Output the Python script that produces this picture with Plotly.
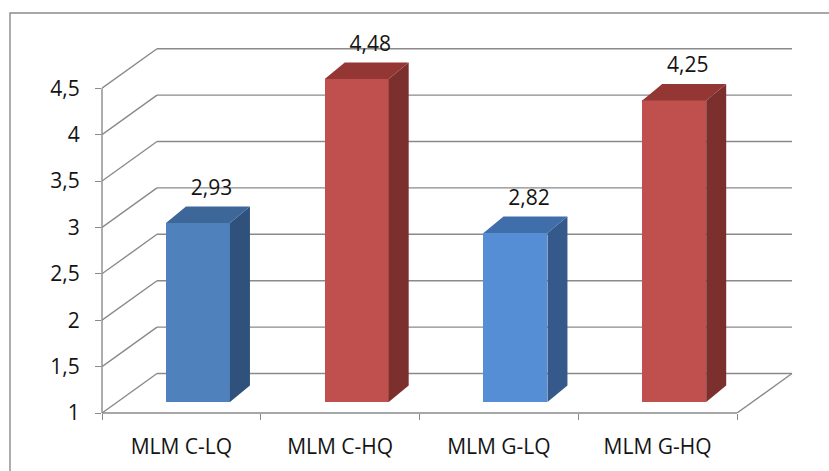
import plotly.graph_objects as go

# --- data -------------------------------------------------------------
categories = ["MLM C-LQ", "MLM C-HQ", "MLM G-LQ", "MLM G-HQ"]
values = [2.93, 4.48, 2.82, 4.25]
y_ticks = [1, 1.5, 2, 2.5, 3, 3.5, 4, 4.5]
y_tick_labels = ["1", "1,5", "2", "2,5", "3", "3,5", "4", "4,5"]

# --- styling ----------------------------------------------------------
front_colors = ["#4F81BD", "#C0504D", "#558ED5", "#C0504D"]
top_colors = ["#3D6699", "#943634", "#406EAB", "#943634"]
side_colors = ["#30517B", "#7B302E", "#35598A", "#7B302E"]
grid_color = "#8A8A8A"
text_color = "#141414"
font_family = "Open Sans"

# pseudo-3D geometry, in axis units
PX_X = 158.75           # pixels per category
PX_Y = 92.8             # pixels per value unit
WALL_DX = 55 / PX_X     # depth of floor / back wall
WALL_DY = 39.5 / PX_Y
BAR_X0, BAR_X1 = 0.403, 0.806   # front face of each bar within its category
BAR_LIFT = 11 / PX_Y            # front face sits a little behind the floor edge
BAR_DX = 20 / PX_X              # bar depth
BAR_DY = 16.5 / PX_Y
n = len(categories)
y_min = y_ticks[0]
y_max_tick = y_ticks[-1]

W, H = 829, 471
ML, MB = 102, 58
x_range = [0, (W - ML) / PX_X]
y_range = [y_min, y_min + (H - MB) / PX_Y]

fig = go.Figure()

shapes = []
line_style = dict(color=grid_color, width=1.4)

# back-wall gridlines with their slanted side-wall continuation
for v in y_ticks:
    shapes.append(dict(type="line", xref="x", yref="y", x0=0, y0=v,
                       x1=WALL_DX, y1=v + WALL_DY, line=line_style, layer="below"))
    shapes.append(dict(type="line", xref="x", yref="y", x0=WALL_DX, y0=v + WALL_DY,
                       x1=n + WALL_DX, y1=v + WALL_DY, line=line_style, layer="below"))

# floor: front edge and right edge
shapes.append(dict(type="line", xref="x", yref="paper", x0=0, y0=0, x1=n, y1=0,
                   line=line_style, layer="below"))
shapes.append(dict(type="line", xref="x", yref="y", x0=n, y0=y_min,
                   x1=n + WALL_DX, y1=y_min + WALL_DY, line=line_style, layer="below"))

# value axis line
shapes.append(dict(type="line", xref="paper", yref="y", x0=0, y0=y_min, x1=0, y1=y_max_tick,
                   line=line_style, layer="below"))

# chart frame
shapes.append(dict(type="rect", xref="paper", yref="paper",
                   x0=(10 - ML) / (W - ML), y0=-0.5,
                   x1=1.2, y1=(H - MB - 13) / (H - MB),
                   line=dict(color=grid_color, width=1.4), fillcolor="rgba(0,0,0,0)",
                   layer="below"))

# front faces of the bars
bar_centers = [i + (BAR_X0 + BAR_X1) / 2 for i in range(n)]
fig.add_trace(go.Bar(
    x=bar_centers,
    y=[v - y_min for v in values],
    base=y_min + BAR_LIFT,
    width=BAR_X1 - BAR_X0,
    marker=dict(color=front_colors, line=dict(width=0)),
    hoverinfo="skip",
    showlegend=False,
))

# top and side faces
for i, v in enumerate(values):
    x0 = i + BAR_X0
    x1 = i + BAR_X1
    b = y_min + BAR_LIFT
    t = v + BAR_LIFT
    fig.add_trace(go.Scatter(
        x=[x1, x1 + BAR_DX, x1 + BAR_DX, x1, x1],
        y=[b, b + BAR_DY, t + BAR_DY, t, b],
        fill="toself", fillcolor=side_colors[i], mode="lines",
        line=dict(width=0, color=side_colors[i]), hoverinfo="skip", showlegend=False,
    ))
    fig.add_trace(go.Scatter(
        x=[x0, x0 + BAR_DX, x1 + BAR_DX, x1, x0],
        y=[t, t + BAR_DY, t + BAR_DY, t, t],
        fill="toself", fillcolor=top_colors[i], mode="lines",
        line=dict(width=0, color=top_colors[i]), hoverinfo="skip", showlegend=False,
    ))

# value labels
fig.add_trace(go.Scatter(
    x=[c + 0.085 for c in bar_centers],
    y=[v + BAR_LIFT + BAR_DY + 0.18 for v in values],
    text=[f"{v:.2f}".replace(".", ",") for v in values],
    mode="text", textposition="middle center",
    textfont=dict(family=font_family, size=21, color=text_color),
    hoverinfo="skip", showlegend=False, cliponaxis=False,
))

# hidden trace on the overlay axis carrying category tick marks
fig.add_trace(go.Scatter(x=[0], y=[y_min], xaxis="x2", mode="markers",
                         marker=dict(opacity=0), hoverinfo="skip", showlegend=False))

fig.update_layout(
    width=W, height=H, autosize=False,
    margin=dict(l=ML, r=0, t=0, b=MB, pad=0),
    paper_bgcolor="white", plot_bgcolor="white",
    shapes=shapes,
    font=dict(family=font_family, color=text_color),
    xaxis=dict(range=x_range, tickvals=[i + 0.5 for i in range(n)],
               ticktext=categories, ticks="", showline=False, showgrid=False,
               zeroline=False, fixedrange=True, ticklabelstandoff=19,
               tickfont=dict(family=font_family, size=21, color=text_color)),
    xaxis2=dict(range=x_range, overlaying="x", anchor="y", side="bottom",
                tickvals=list(range(n + 1)), ticks="outside", ticklen=6,
                tickwidth=1.4, tickcolor=grid_color, showticklabels=False,
                showline=False, showgrid=False, zeroline=False, fixedrange=True),
    yaxis=dict(range=y_range, tickvals=y_ticks, ticktext=y_tick_labels,
               ticks="outside", ticklen=6, tickwidth=1.4, tickcolor=grid_color,
               showline=False, showgrid=False, zeroline=False, fixedrange=True,
               ticklabelstandoff=11,
               tickfont=dict(family=font_family, size=21, color=text_color)),
    bargap=0,
)

fig.write_html("out.html")
